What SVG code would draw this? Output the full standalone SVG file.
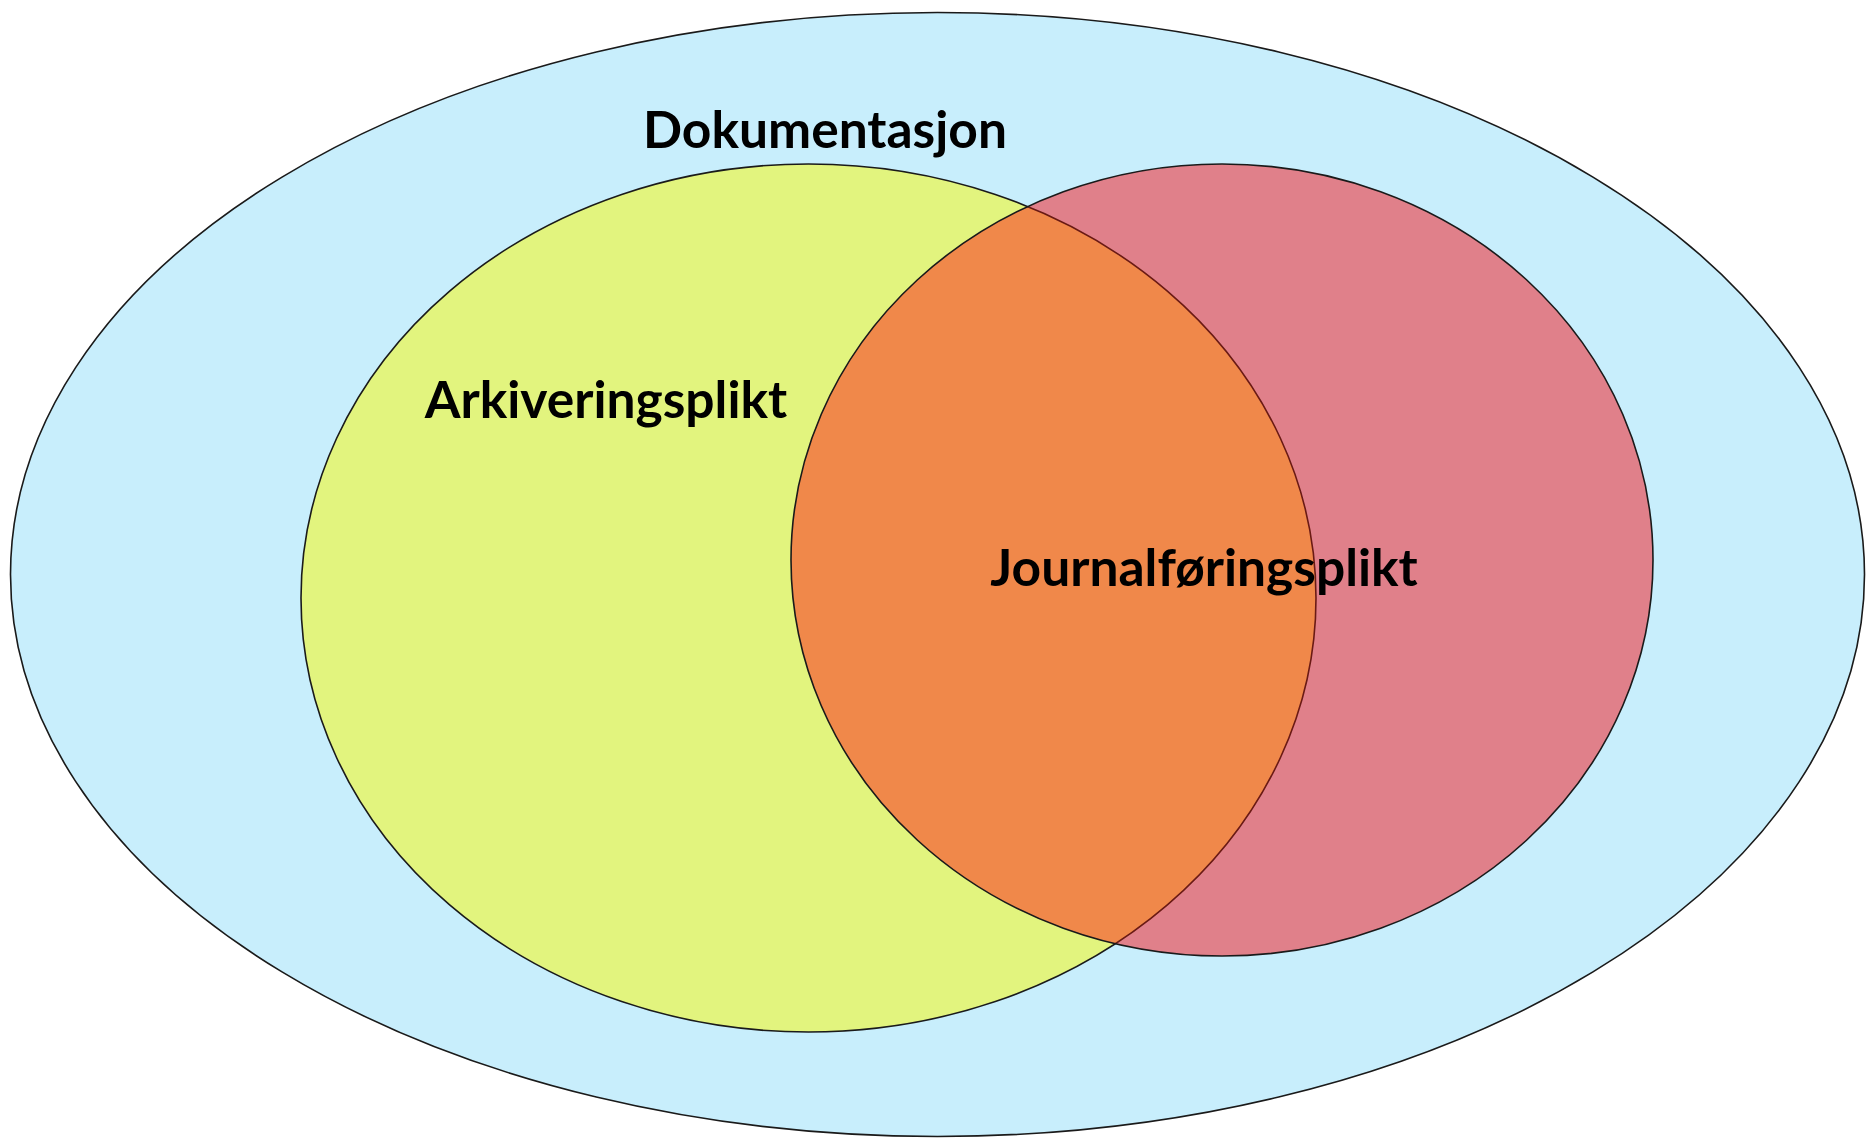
<svg xmlns="http://www.w3.org/2000/svg" width="1866" height="1139" viewBox="0 0 1866 1139">
<style>
.lbl{font-family:Lato,"Open Sans","Liberation Sans",sans-serif;font-weight:bold;font-size:51.5px;fill:#000}
.edge{fill:none;stroke:#1a1a1a;stroke-width:1.6}
</style>
<defs>
<clipPath id="redClip"><ellipse cx="1222" cy="560" rx="431" ry="396"/></clipPath>
</defs>
<rect width="1866" height="1139" fill="#fff"/>
<g id="dokumentasjon">
<ellipse cx="937.5" cy="574.5" rx="927" ry="562" style="fill:#C8EEFC;stroke:#1a1a1a;stroke-width:1.6"/>
<text class="lbl" x="825" y="148" text-anchor="middle">Dokumentasjon</text>
</g>
<g id="arkiveringsplikt">
<ellipse cx="808.5" cy="598" rx="507.5" ry="434" style="fill:#E2F47E;stroke:#1a1a1a;stroke-width:1.6"/>
</g>
<g id="journalforingsplikt">
<ellipse cx="1222" cy="560" rx="431" ry="396" fill="#E0808A"/>
<ellipse cx="808.5" cy="598" rx="507.5" ry="434" fill="#F0884A" clip-path="url(#redClip)"/>
<ellipse cx="808.5" cy="598" rx="507.5" ry="434" fill="none" stroke="#6a1a14" stroke-width="1.6" clip-path="url(#redClip)"/>
<ellipse cx="1222" cy="560" rx="431" ry="396" class="edge"/>
</g>
<g id="labels">
<text class="lbl" x="606" y="418" text-anchor="middle">Arkiveringsplikt</text>
<text class="lbl" x="1204" y="586" text-anchor="middle">Journalføringsplikt</text>
</g>
<g id="connectors"/>
</svg>
